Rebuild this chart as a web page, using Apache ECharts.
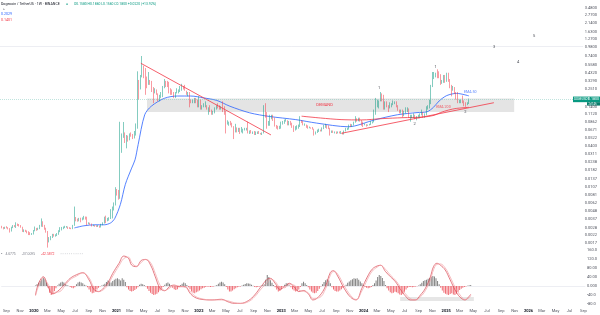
<!DOCTYPE html>
<html>
<head>
<meta charset="utf-8">
<title>Dogecoin / TetherUS 1W</title>
<script src="https://cdn.jsdelivr.net/npm/echarts@6/dist/echarts.min.js"></script>
<style>
  html, body { margin: 0; padding: 0; background: #fff; }
  #chart { width: 600px; height: 315px; }
</style>
</head>
<body>
<div id="chart"></div>
<script>
// weekly candles, values in 1e-4 USDT: [open, close, low, high]
const PRICE_UNIT = 1e-4;
const candles2019 = [
  [30.2,28.9,28.0,30.9],[28.9,28.4,27.6,30.0],[28.4,27.6,26.7,28.9],
  [27.6,28.7,27.1,29.1],[28.7,28.0,27.6,29.6],[28.0,27.6,26.7,28.7],[27.6,25.3,24.1,27.8],[25.3,28.4,24.9,29.1],
  [28.4,30.0,27.8,30.7],[30.0,29.3,28.7,30.7],[29.3,30.9,28.0,33.6],[30.9,30.5,29.8,32.3],
  [30.5,30.0,29.3,31.8],[30.0,28.7,28.2,30.7],[28.7,25.5,24.6,29.1],[25.5,25.8,24.4,26.7],
  [25.8,25.3,24.6,26.4],[25.3,24.2,23.5,25.8],[24.2,24.0,22.2,25.1],[24.0,22.6,22.2,24.4],[22.6,23.1,22.3,23.7]
];
const candles2020 = [
  [23.1,25.5,22.6,26.2],[25.5,27.8,25.1,29.3],[27.8,26.4,25.5,28.0],[26.4,27.3,26.0,28.2],
  [27.3,29.8,26.9,30.9],[29.8,33.8,29.1,38.1],[33.8,30.2,28.9,34.7],[30.2,27.1,26.4,30.9],
  [27.1,24.9,24.0,28.2],[24.9,19.5,14.8,25.3],[19.5,19.9,17.5,20.8],[19.9,20.6,18.8,21.5],[20.6,22.2,20.2,23.1],
  [22.2,21.7,21.1,23.1],[21.7,22.0,21.1,22.8],[22.0,22.8,21.5,23.7],[22.8,25.1,22.4,26.0],
  [25.1,27.1,24.4,28.7],[27.1,27.6,25.8,28.9],[27.6,28.4,26.9,29.3],[28.4,28.9,27.8,30.0],
  [28.9,28.9,28.2,29.8],[28.9,28.2,27.1,29.3],[28.2,27.8,27.1,28.7],[27.8,27.3,26.9,28.2],[27.3,30.2,26.9,30.9],
  [30.2,38.1,30.0,56.0],[38.1,36.1,34.7,39.9],[36.1,35.8,34.3,37.9],[35.8,37.4,34.7,38.8],
  [37.4,36.7,33.6,39.0],[36.7,37.2,35.8,39.4],[37.2,39.9,36.7,41.4],[39.9,37.4,36.7,40.5],[37.4,32.5,30.5,40.3],
  [32.5,32.9,31.6,33.6],[32.9,31.8,31.1,33.2],[31.8,30.2,29.3,32.3],[30.2,30.2,29.6,31.1],
  [30.2,29.8,29.1,30.7],[29.8,29.3,28.9,30.5],[29.3,29.6,28.9,30.7],[29.6,28.9,28.2,30.2],
  [28.9,30.9,28.4,32.0],[30.9,32.9,30.5,33.6],[32.9,37.0,32.3,40.3],[37.0,36.3,32.7,41.7],[36.3,36.5,34.7,38.8],
  [36.5,38.1,35.4,39.6],[38.1,43.7,37.4,51.5],[43.7,51.5,38.1,56.0],[51.5,60.0,49.3,64.0]
];
const candles2021 = [
  [60,98,58,105],[98,90,80,99],[90,88,70,96],[88,380,72,876],
  [380,560,320,600],[560,590,520,870],[590,510,440,620],[510,510,370,570],
  [510,500,460,560],[500,580,480,600],[580,570,540,620],[570,530,500,590],[530,590,510,650],
  [590,720,560,830],[720,3100,700,4500],[3100,2700,1800,3400],[2700,3800,2500,4000],
  [3800,5000,3700,7400],[5000,4900,3600,5400],[4900,3600,2100,5000],[3600,3200,2600,3800],[3200,3300,2900,4400],
  [3300,3200,2900,3400],[3200,2500,2300,3300],[2500,2400,1600,2700],[2400,2400,2200,2600],
  [2400,2200,2100,2500],[2200,1800,1700,2200],[1800,2000,1700,2100],[2000,2100,1900,2300],
  [2100,2700,1950,2800],[2700,3100,2600,3500],[3100,3000,2700,3300],[3000,2900,2700,3300],[2900,2500,2200,3200],
  [2500,2400,2100,2600],[2400,2200,2100,2500],[2200,2100,1900,2300],[2100,2300,1900,2300],
  [2300,2300,2200,2600],[2300,2400,2200,2500],[2400,2600,2300,2800],[2600,2800,2400,3000],
  [2800,2700,2500,2800],[2700,2400,2400,2900],[2400,2200,2100,2400],[2200,2200,2000,2300],[2200,1800,1400,2300],
  [1800,1700,1600,1800],[1700,1700,1600,1800],[1700,1900,1600,1900],[1900,1700,1600,1900]
];
const candles2022 = [
  [1700,1500,1400,1800],[1500,1800,1400,2000],[1800,1400,1300,1800],[1400,1400,1300,1500],[1400,1500,1400,1600],
  [1500,1500,1400,1700],[1500,1300,1300,1500],[1300,1350,1100,1400],[1350,1250,1200,1500],
  [1250,1150,1100,1300],[1150,1200,1100,1250],[1200,1350,1150,1400],[1350,1450,1300,1500],
  [1450,1400,1350,1600],[1400,1350,1300,1500],[1350,1400,1300,1450],[1400,1300,1200,1700],
  [1300,1200,1100,1450],[1200,850,600,1250],[850,850,800,920],[850,870,770,880],[870,800,780,900],
  [800,750,730,850],[750,650,500,760],[650,720,620,820],[720,680,620,730],
  [680,690,630,720],[690,640,590,720],[640,680,620,740],[680,680,600,700],
  [680,690,660,720],[690,700,660,720],[700,630,600,880],[630,650,590,660],[650,620,600,670],
  [620,620,590,640],[620,590,570,650],[590,620,570,640],[620,620,590,640],
  [620,600,590,650],[600,590,580,610],[590,610,570,620],[610,1200,600,1500],[1200,1100,1000,1600],
  [1100,850,700,1200],[850,850,770,900],[850,1000,770,1100],[1000,1000,950,1100],
  [1000,950,900,1100],[950,770,750,1000],[770,750,700,790],[750,700,680,770]
];
const candles2023 = [
  [700,740,690,770],[740,830,700,880],[830,870,800,900],[870,900,820,940],[900,900,880,960],
  [900,800,780,920],[800,870,780,900],[870,830,780,900],[830,770,720,850],
  [770,680,630,780],[680,700,660,760],[700,720,680,780],[720,770,700,800],
  [770,920,740,1050],[920,880,840,920],[880,790,780,900],[790,800,770,830],
  [800,760,720,800],[760,720,700,780],[720,730,710,750],[730,720,700,730],[720,690,680,740],
  [690,620,560,700],[620,620,580,640],[620,650,610,680],[650,670,630,700],
  [670,660,640,680],[660,700,640,730],[700,760,690,790],[760,770,720,820],[770,720,700,790],
  [720,700,690,780],[700,620,560,720],[620,640,610,660],[640,630,610,660],
  [630,630,600,640],[630,610,590,640],[610,620,600,640],[620,610,600,640],
  [610,610,590,650],[610,590,580,620],[590,650,580,660],[650,690,640,720],[690,690,670,720],
  [690,780,680,800],[780,760,740,820],[760,790,740,810],[790,860,780,880],
  [860,960,850,1050],[960,910,880,980],[910,960,890,1000],[960,900,880,1000]
];
const candles2024 = [
  [900,820,770,930],[820,800,740,880],[800,810,780,830],[810,790,750,810],[790,790,770,800],
  [790,800,780,820],[800,860,790,900],[860,870,830,890],[870,1200,860,1300],
  [1200,1600,1100,1900],[1600,1650,1400,1800],[1650,1700,1350,1750],[1700,2000,1700,2300],
  [2000,1900,1700,2200],[1900,1550,1300,2100],[1550,1600,1300,1700],[1600,1450,1400,1700],[1450,1400,1200,1500],
  [1400,1450,1350,1650],[1450,1550,1400,1600],[1550,1600,1500,1750],[1600,1600,1550,1700],
  [1600,1500,1400,1700],[1500,1300,1250,1500],[1300,1250,1150,1300],[1250,1250,1150,1300],
  [1250,1100,1000,1300],[1100,1200,1050,1250],[1200,1250,1150,1400],[1250,1300,1200,1400],[1300,1050,1000,1350],
  [1050,1050,880,1100],[1050,1050,980,1100],[1050,1100,1000,1150],[1100,1000,950,1100],
  [1000,1000,920,1050],[1000,1050,980,1100],[1050,1100,980,1150],[1100,1200,1080,1300],[1200,1050,1000,1200],
  [1050,1100,1000,1150],[1100,1400,1080,1450],[1400,1400,1300,1500],[1400,1600,1350,1800],
  [1600,2800,1550,2900],[2800,3700,2700,4400],[3700,3900,3500,4400],[3900,4200,3700,4300],
  [4200,4100,3600,4800],[4100,4000,3600,4500],[4000,3100,2900,4100],[3100,3200,3000,3400],[3200,3700,3100,4000]
];
const candles2025 = [
  [3700,3300,3100,4000],[3300,3800,3200,4300],[3800,3300,3200,4300],[3300,2800,2600,3500],
  [2800,2600,2000,2900],[2600,2600,2400,2800],[2600,2200,2150,2700],[2200,2000,1800,2300],
  [2000,1700,1600,2300],[1700,1700,1600,1800],[1700,1750,1600,1800],[1750,1650,1600,2050],[1650,1600,1450,1750],
  [1600,1550,1420,1650],[1550,1580,1500,1650],[1580,1800,1560,1860]
];

// EMA lines: [date, price]
const ema50Points = [
  ['2020-07-06',0.0028],['2020-08-17',0.0030],['2020-10-05',0.0031],['2020-11-16',0.0031],
  ['2020-12-14',0.0033],['2021-01-01',0.0038],['2021-01-26',0.0060],['2021-02-17',0.0115],
  ['2021-03-17',0.0195],['2021-04-01',0.0255],['2021-04-15',0.042],['2021-05-14',0.110],
  ['2021-06-12',0.145],['2021-08-10',0.188],['2021-10-07',0.202],['2021-12-04',0.202],
  ['2022-01-31',0.190],['2022-03-30',0.175],['2022-05-27',0.145],['2022-08-23',0.117],
  ['2022-11-19',0.104],['2023-03-15',0.094],['2023-06-15',0.084],['2023-11-03',0.0745],
  ['2024-02-27',0.093],['2024-06-08',0.110],['2024-09-03',0.118],['2024-10-17',0.121],
  ['2024-11-15',0.140],['2024-12-10',0.172],['2025-01-13',0.205],['2025-02-26',0.220],['2025-04-21',0.2029]
];
const ema200Points = [
  ['2023-04-10',0.105],['2023-07-03',0.099],['2023-10-02',0.094],['2024-01-01',0.093],
  ['2024-04-01',0.097],['2024-07-01',0.100],['2024-10-01',0.102],['2024-11-18',0.108],
  ['2024-12-16',0.118],['2025-01-20',0.128],['2025-02-24',0.135],['2025-04-21',0.1401]
];

// drawings
const trendDown = [['2021-04-27',0.584],['2022-11-25',0.0572]];
const trendUp = [['2023-10-03',0.0602],['2025-08-10',0.1626]];
const demandZone = { from: '2021-05-24', to: '2025-11-08', top: 0.1865, bottom: 0.1206, label: 'DEMAND' };
const waveMarks = [
  ['2024-03-19',0.259,'1'],['2024-08-23',0.0816,'2'],['2024-11-25',0.523,'1'],['2025-04-06',0.122,'2'],
  ['2025-08-11',0.99,'3'],['2025-11-25',0.608,'4'],['2026-02-04',1.41,'5']
];
const emaTags = [['2025-04-27',0.230,'EMA 50'],['2024-12-29',0.1413,'EMA 200']];

// oscillator: weekly histogram from 2020-01-06, two lines sampled
const hist2020 = [2,8,14,22, 30,37,30,15, -8,-30,-40,-34,-22, -10,2,10,16, 19,15,9,4, 1,-4,-8,-10,-6,
  8,16,19,16, 12,6,2,-6,-16, -26,-32,-30,-24, -16,-8,-2,2, 6,10,18,24,20, 16,22,28,32];
const hist2021 = [34,30,24,34, 28,18,-6,-16, -22,-25,-22,-18,-12, -6,6,10,8, 4,-2,-12,-22,-30,
  -36,-40,-38,-34, -28,-20,-12,-4, 6,12,15,10,2, -8,-14,-18,-14, -6,4,10,15, 12,4,-6,-14,-24, -30,-32,-28,-24];
const hist2022 = [-20,-14,-10,-8,-4, -2,-3,-4,-3, -2,1,4,10, 16,19,16,8, -4,-16,-24,-25,-20,
  -14,-10,-6,-3, -2,2,6,9, 12,11,10,6,1, -4,-6,-4,-2, 1,3,8,28,49, 40,26,14,4, -6,-16,-25,-22];
const hist2023 = [-14,-4,6,12,10, 2,-6,-14,-20, -25,-22,-14,-4, 12,19,12,4, -6,-16,-24,-30,-32,
  -30,-22,-12,-2, 8,18,26,30,24, 12,-6,-16,-22, -25,-24,-20,-14, -8,-2,6,14,20, 26,30,34,32, 34,28,20,12];
const hist2024 = [4,-4,-8,-10,-8, -4,4,12,24, 40,49,44,36, 22,4,-10,-20,-28, -32,-30,-26,-28,
  -32,-38,-40,-34, -26,-16,-8,-4,-5, -6,-4,-2,-1, 2,8,14,22,26, 28,32,36,40, 44,42,34,22, 8,-8,-20,-30,-34];
const hist2025 = [-38,-40,-36,-32, -38,-40,-34,-26, -18,-12,-8,-4,-2, 1,3,4.6775];

const oscDates = ['2020-01-06','2020-01-20','2020-02-10','2020-03-02','2020-03-23','2020-04-20','2020-05-18',
  '2020-06-08','2020-07-06','2020-08-03','2020-08-31','2020-09-21','2020-10-12','2020-11-02','2020-11-23',
  '2020-12-14','2021-01-11','2021-02-01','2021-02-22','2021-03-08','2021-03-29','2021-04-19','2021-05-10',
  '2021-05-31','2021-06-21','2021-07-12','2021-08-02','2021-08-23','2021-09-13','2021-10-04','2021-11-01',
  '2021-11-22','2021-12-13','2022-01-10','2022-02-28','2022-04-11','2022-05-09','2022-06-06','2022-07-04',
  '2022-08-08','2022-09-05','2022-10-03','2022-10-31','2022-11-14','2022-12-05','2022-12-26','2023-01-16',
  '2023-02-06','2023-02-27','2023-03-20','2023-04-10','2023-05-01','2023-05-22','2023-06-19','2023-07-17',
  '2023-08-07','2023-08-21','2023-09-08','2023-10-07','2023-11-05','2023-11-29','2023-12-25','2024-01-18',
  '2024-02-09','2024-03-02','2024-03-17','2024-04-08','2024-04-30','2024-05-22','2024-06-13','2024-07-05',
  '2024-07-27','2024-08-18','2024-09-10','2024-10-02','2024-10-24','2024-11-07','2024-11-22','2024-12-07',
  '2024-12-29','2025-01-20','2025-02-11','2025-03-05','2025-03-27','2025-04-14','2025-04-21'];
const oscFast = [-40,12,41,-3,-35,-18,12, 34,50,59,27,-15,-25,-10,15, 56,101,133,123,93,86,113,118,
  93,41,-10,-21,-3,4,-3,-3, -32,-50,-59,-62,-59,-70,-77,-77, -65,-40,-3,30,34,12,-15,-3,
  12,-3,-25,-20,-35,-62,-45,0, 60,68,45,-10,-50,-62,-10,40, 75,89,92,64,41,19,-15,-44,
  -62,-62,-40,-10,41,86,101,93, 71,27,-18,-50,-62,-46,-37.0095];
const oscSlow = [-44,0,36,8,-28,-26,4, 28,44,58,36,-6,-24,-17,6, 44,90,122,128,104,88,104,118,
  104,56,4,-20,-10,2,0,-6, -24,-44,-56,-62,-62,-66,-74,-78, -70,-48,-14,16,30,20,-6,-8,
  6,4,-18,-24,-30,-55,-52,-12, 48,64,54,2,-42,-60,-22,28, 66,84,92,74,48,26,-4,-34,
  -56,-62,-48,-20,26,72,96,98, 80,40,-6,-40,-60,-52,-42.5872];

// axis ticks
const priceTicks = [3.48,2.77,2.14,1.63,1.27,0.98,0.74,0.558,0.432,0.329,0.251,0.14,0.112,0.0862,0.0671,
  0.0522,0.0403,0.0311,0.0238,0.0182,0.0137,0.0107,0.0081,0.0062,0.0048,0.0037,0.0028,0.0022,0.0017];
const oscTicks = [160,120,80,40,0,-40,-80];
const timeTicks = ['2019-09-01','2019-11-01','2020-01-01','2020-03-01','2020-05-01','2020-07-01','2020-09-01',
  '2020-11-01','2021-01-01','2021-03-01','2021-05-01','2021-07-01','2021-09-01','2021-11-01','2022-01-01',
  '2022-03-01','2022-05-01','2022-07-01','2022-09-01','2022-11-01','2023-01-01','2023-03-01','2023-05-01',
  '2023-07-01','2023-09-01','2023-11-01','2024-01-01','2024-03-01','2024-05-01','2024-07-01','2024-09-01',
  '2024-11-01','2025-01-01','2025-03-01','2025-05-01','2025-07-01','2025-09-01','2025-11-01','2026-01-01',
  '2026-03-01','2026-05-01','2026-07-01','2026-09-01'];
const MONTHS = ['Jan','Feb','Mar','Apr','May','Jun','Jul','Aug','Sep','Oct','Nov','Dec'];

const FONT = 'Roboto, "Noto Sans", sans-serif';
const UP = '#089981', DOWN = '#f23645', BLUE = '#2962ff';
const xMin = '2019-08-11', xMax = '2026-09-08';
const priceMin = 0.00146, priceMax = 4.55;

function weekTime(i) { return new Date(2019, 7, 12 + 7 * i).getTime(); }
function localTime(s) { return new Date(s + 'T00:00:00').getTime(); }

const weekly = [].concat(candles2019, candles2020, candles2021, candles2022, candles2023, candles2024, candles2025);
const candleData = weekly.map((c, i) => [weekTime(i), c[0] * PRICE_UNIT, c[1] * PRICE_UNIT, c[2] * PRICE_UNIT, c[3] * PRICE_UNIT]);
const histOffset = candles2019.length; // histogram starts with the first 2020 week
const hist = [].concat(hist2020, hist2021, hist2022, hist2023, hist2024, hist2025);
const histData = hist.map((v, i) => [weekTime(i + histOffset), v]);

const last = weekly[weekly.length - 1];
const prev = weekly[weekly.length - 2];
const lastClose = last[1] * PRICE_UNIT;

function fmtOsc(v) {
  let s = v.toFixed(3);
  while (s.length > 5 && s.indexOf('.') >= 0 && s[s.length - 1] !== '.') s = s.slice(0, -1);
  if (s[s.length - 1] === '.') s = s.slice(0, -1);
  return s;
}

const chart = echarts.init(document.getElementById('chart'), null, { renderer: 'canvas' });

const hiddenAxis = {
  axisLine: { show: false }, axisTick: { show: false }, splitLine: { show: false }
};
const NO_FILL = 'rgba(0,0,0,0)';

const option = {
  animation: false,
  backgroundColor: '#ffffff',
  textStyle: { fontFamily: FONT },
  grid: [
    { left: 0, right: 14, top: 0, height: 248 },
    { left: 0, right: 14, top: 247, height: 59 }
  ],
  xAxis: [
    {
      type: 'time', gridIndex: 0, min: xMin, max: xMax,
      axisLine: { show: true, lineStyle: { color: '#e0e3eb', width: 0.6 } },
      axisTick: { show: false }, axisLabel: { show: false }, splitLine: { show: false }
    },
    {
      type: 'time', gridIndex: 1, min: xMin, max: xMax,
      axisLine: { show: true, lineStyle: { color: '#e0e3eb', width: 0.6 } },
      axisTick: { show: false }, axisLabel: { show: false }, splitLine: { show: false }
    },
    {
      // label-only axis over the same time span
      type: 'value', gridIndex: 1, position: 'bottom',
      min: localTime(xMin), max: localTime(xMax),
      axisLine: { show: false }, axisTick: { show: false }, splitLine: { show: false },
      axisLabel: {
        customValues: timeTicks.map(localTime),
        fontSize: 4, color: '#50535e', margin: 3,
        formatter: function (v) {
          const d = new Date(v);
          return d.getMonth() === 0 ? '{y|' + d.getFullYear() + '}' : MONTHS[d.getMonth()];
        },
        rich: { y: { fontSize: 4, fontWeight: 'bold', color: '#131722' } }
      }
    }
  ],
  yAxis: [
    Object.assign({ type: 'log', gridIndex: 0, position: 'right', min: priceMin, max: priceMax,
      axisLabel: { show: false } }, hiddenAxis),
    Object.assign({ type: 'value', gridIndex: 0, position: 'right',
      min: Math.log10(priceMin), max: Math.log10(priceMax),
      axisLabel: {
        customValues: priceTicks.map(Math.log10), fontSize: 4, color: '#50535e', margin: 2,
        formatter: v => Math.pow(10, v).toFixed(4)
      } }, hiddenAxis),
    Object.assign({ type: 'value', gridIndex: 1, position: 'right', min: -88.9, max: 173.3,
      axisLabel: { customValues: oscTicks, fontSize: 4, color: '#50535e', margin: 2, formatter: fmtOsc } }, hiddenAxis)
  ],
  series: [
    {
      name: 'zone', type: 'line', xAxisIndex: 0, yAxisIndex: 0, data: [], z: 1, silent: true,
      markArea: {
        silent: true,
        itemStyle: { color: '#e4e4e4' },
        label: { show: true, position: 'inside', color: DOWN, fontSize: 4, offset: [-6, 0], fontFamily: FONT },
        data: [[
          { name: demandZone.label, xAxis: demandZone.from, yAxis: demandZone.top },
          { xAxis: demandZone.to, yAxis: demandZone.bottom }
        ]]
      }
    },
    {
      name: 'DOGEUSDT', type: 'candlestick', xAxisIndex: 0, yAxisIndex: 0, z: 3,
      data: candleData, barWidth: 1.1,
      itemStyle: { color: UP, color0: DOWN, borderColor: UP, borderColor0: DOWN, borderWidth: 0.5 },
      markLine: {
        silent: true, symbol: 'none', label: { show: false },
        lineStyle: { color: '#7cc7b9', type: [1, 1], width: 0.6, opacity: 0.8 },
        data: [{ yAxis: lastClose }]
      }
    },
    {
      name: 'EMA 50', type: 'line', xAxisIndex: 0, yAxisIndex: 0, z: 2, data: ema50Points,
      smooth: 0.3, showSymbol: false, lineStyle: { color: BLUE, width: 0.8 }
    },
    {
      name: 'EMA 200', type: 'line', xAxisIndex: 0, yAxisIndex: 0, z: 2, data: ema200Points,
      smooth: 0.3, showSymbol: false, lineStyle: { color: DOWN, width: 0.8 }
    },
    {
      name: 'trend down', type: 'line', xAxisIndex: 0, yAxisIndex: 0, z: 4, data: trendDown,
      showSymbol: false, lineStyle: { color: DOWN, width: 0.8 }
    },
    {
      name: 'trend up', type: 'line', xAxisIndex: 0, yAxisIndex: 0, z: 4, data: trendUp,
      showSymbol: false, lineStyle: { color: DOWN, width: 0.8 }
    },
    {
      name: 'waves', type: 'scatter', xAxisIndex: 0, yAxisIndex: 0, z: 5,
      data: waveMarks, symbolSize: 2, itemStyle: { color: NO_FILL },
      label: { show: true, position: 'inside', formatter: p => p.data[2], color: '#131722', fontSize: 4, fontFamily: FONT }
    },
    {
      name: 'tags', type: 'scatter', xAxisIndex: 0, yAxisIndex: 0, z: 5,
      data: emaTags.map((t, i) => ({
        value: t,
        label: { color: i === 0 ? BLUE : DOWN }
      })),
      symbolSize: 2, itemStyle: { color: NO_FILL },
      label: { show: true, position: 'inside', formatter: p => p.data.value[2], fontSize: 3.6, fontFamily: FONT }
    },
    {
      name: 'hist', type: 'bar', xAxisIndex: 1, yAxisIndex: 2, data: histData, barWidth: 1,
      itemStyle: { color: p => p.value[1] >= 0 ? '#808080' : '#f06b73' }
    },
    {
      name: 'fast', type: 'line', xAxisIndex: 1, yAxisIndex: 2, z: 3,
      data: oscDates.map((d, i) => [d, oscFast[i]]),
      smooth: 0.4, showSymbol: false, lineStyle: { color: '#d9444f', width: 0.7 },
      markArea: {
        silent: true, itemStyle: { color: '#e6e6e6' },
        data: [[{ xAxis: '2024-06-12', yAxis: -49 }, { xAxis: '2025-05-05', yAxis: -67 }]]
      }
    },
    {
      name: 'slow', type: 'line', xAxisIndex: 1, yAxisIndex: 2, z: 3,
      data: oscDates.map((d, i) => [d, oscSlow[i]]),
      smooth: 0.4, showSymbol: false, lineStyle: { color: '#f2a0a5', width: 0.7 }
    }
  ]
};

chart.setOption(option);

// overlay texts: legend, indicator header, last price tag
const chg = (last[1] - prev[1]) * PRICE_UNIT;
const pct = chg / (prev[1] * PRICE_UNIT) * 100;
const f4 = v => (v * PRICE_UNIT).toFixed(4);
const ohlc = 'O' + f4(last[0]) + ' H' + f4(last[3]) + ' L' + f4(last[2]) + ' C' + f4(last[1]) +
  ' ' + (chg >= 0 ? '+' : '') + chg.toFixed(4) + ' (' + (chg >= 0 ? '+' : '') + pct.toFixed(2) + '%)';
const yTag = chart.convertToPixel({ yAxisIndex: 0 }, lastClose);

chart.setOption({
  graphic: [
    { type: 'text', x: 1, y: 4, silent: true,
      style: { text: 'Dogecoin / TetherUS · 1W · BINANCE', fontSize: 3.6, fill: '#131722', fontFamily: FONT, verticalAlign: 'middle' } },
    { type: 'text', x: 66, y: 4, silent: true,
      style: { text: '●', fontSize: 3.4, fill: UP, fontFamily: FONT, verticalAlign: 'middle' } },
    { type: 'text', x: 74, y: 4, silent: true,
      style: { text: ohlc, fontSize: 3.4, fill: UP, fontFamily: FONT, verticalAlign: 'middle' } },
    { type: 'text', x: 3, y: 9.5, silent: true,
      style: { text: '^', fontSize: 4, fill: '#50535e', fontFamily: FONT, verticalAlign: 'middle' } },
    { type: 'text', x: 1, y: 14.5, silent: true,
      style: { text: ema50Points[ema50Points.length - 1][1].toFixed(4), fontSize: 3.6, fill: BLUE, fontFamily: FONT, verticalAlign: 'middle' } },
    { type: 'text', x: 1, y: 20.5, silent: true,
      style: { text: ema200Points[ema200Points.length - 1][1].toFixed(4), fontSize: 3.6, fill: DOWN, fontFamily: FONT, verticalAlign: 'middle' } },
    { type: 'text', x: 1, y: 254, silent: true,
      style: {
        text: '{a|•} {b|' + hist[hist.length - 1].toFixed(4) + '}  {b|' + oscFast[oscFast.length - 1].toFixed(4) +
          '}  {c|' + oscSlow[oscSlow.length - 1].toFixed(4) + '}  {d|▫ ▫ ▫ ▫ ▫ ▫ ▫ ▫ ▫ ▫ ▫}',
        fontFamily: FONT, verticalAlign: 'middle',
        rich: {
          a: { fontSize: 4, fill: '#787b86' },
          b: { fontSize: 3.4, fill: '#787b86' },
          c: { fontSize: 3.4, fill: DOWN },
          d: { fontSize: 3.4, fill: '#9598a1' }
        }
      } },
    { type: 'rect', silent: true, shape: { x: 573, y: yTag - 3, width: 27, height: 5.6 }, style: { fill: UP } },
    { type: 'text', x: 574, y: yTag - 0.2, silent: true,
      style: { text: 'DOGEUSDT', fontSize: 3, fill: '#ffffff', fontFamily: FONT, verticalAlign: 'middle' } },
    { type: 'text', x: 588, y: yTag - 0.2, silent: true,
      style: { text: lastClose.toFixed(4), fontSize: 3.6, fill: '#ffffff', fontFamily: FONT, verticalAlign: 'middle' } },
    { type: 'rect', silent: true, shape: { x: 587, y: yTag + 2.6, width: 13, height: 3.4 }, style: { fill: '#0a7d6c' } },
    { type: 'text', x: 588.5, y: yTag + 4.3, silent: true,
      style: { text: '2d 14h', fontSize: 2.6, fill: '#ffffff', fontFamily: FONT, verticalAlign: 'middle' } }
  ]
});
</script>
</body>
</html>
